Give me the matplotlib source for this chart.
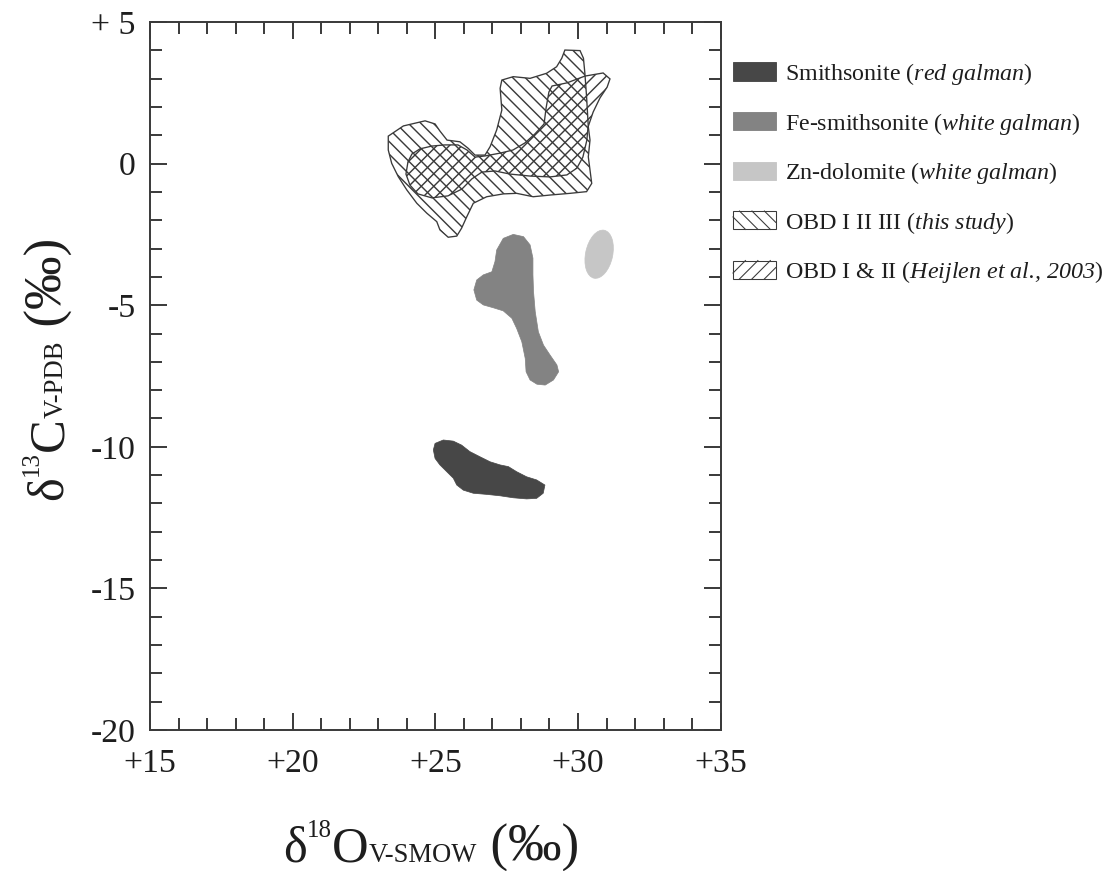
import numpy as np
import matplotlib
matplotlib.use("Agg")
import matplotlib.pyplot as plt
from matplotlib.patches import Polygon, Ellipse, Patch, Rectangle
from matplotlib.lines import Line2D
from matplotlib.collections import LineCollection
from matplotlib.legend_handler import HandlerBase
from matplotlib.ticker import MultipleLocator, FixedLocator
from matplotlib.transforms import IdentityTransform

# outlines: delta18O (V-SMOW) and delta13C (V-PDB)
smith_o18 = [24.99, 25.28, 25.63, 25.92, 26.21, 26.56, 26.92, 27.27, 27.56, 27.85, 28.20, 28.55, 28.84,
             28.78, 28.55, 28.20, 27.73, 27.27, 26.80, 26.33, 25.98, 25.75, 25.63, 25.40, 25.16, 24.99, 24.93]
smith_c13 = [-9.88, -9.76, -9.80, -9.94, -10.17, -10.35, -10.53, -10.64, -10.70, -10.88, -11.06, -11.17, -11.35,
             -11.64, -11.82, -11.84, -11.80, -11.73, -11.68, -11.64, -11.53, -11.35, -11.11, -10.88, -10.64, -10.41, -10.11]

fe_o18 = [27.15, 27.38, 27.73, 28.09, 28.32, 28.42, 28.42, 28.44, 28.50, 28.61, 28.79, 29.02, 29.26, 29.32, 29.14, 28.85,
          28.56, 28.32, 28.18, 28.15, 28.03, 27.85, 27.68, 27.38, 27.03, 26.68, 26.45, 26.35, 26.45, 26.68, 26.98, 27.09]
fe_c13 = [-3.05, -2.64, -2.50, -2.58, -2.87, -3.34, -3.93, -4.52, -5.23, -5.94, -6.41, -6.76, -7.11, -7.35, -7.64, -7.82,
          -7.79, -7.64, -7.35, -6.88, -6.29, -5.82, -5.46, -5.20, -5.09, -4.99, -4.82, -4.46, -4.11, -3.93, -3.82, -3.46]

# Zn-dolomite field is an ellipse
zn_center = (30.74, -3.20)
zn_width = 0.95
zn_height = 1.73
zn_angle = -12

# OBD I II III (this study)
obd123_o18 = [23.35, 23.88, 24.64, 24.99, 25.16, 25.41, 25.86, 26.15, 26.39, 26.74, 26.92, 27.15, 27.33, 27.27, 27.33,
              27.73, 28.32, 28.90, 29.25, 29.43, 29.54, 30.07, 30.19, 30.24, 30.30, 30.36, 30.42, 30.36, 30.42, 30.48,
              30.30, 29.72, 29.02, 28.43, 27.85, 27.38, 26.80, 26.33, 26.10, 25.92, 25.75, 25.45, 25.16, 25.05, 24.70,
              24.35, 24.00, 23.70, 23.47, 23.35]
obd123_c13 = [0.97, 1.33, 1.51, 1.40, 1.15, 0.83, 0.77, 0.54, 0.30, 0.30, 0.60, 1.19, 1.89, 2.66, 2.95,
              3.07, 3.01, 3.19, 3.42, 3.72, 4.01, 3.99, 3.72, 3.19, 2.36, 1.30, 0.83, 0.24, -0.23, -0.70,
              -0.99, -1.05, -1.11, -1.17, -1.05, -1.07, -1.17, -1.40, -1.88, -2.28, -2.56, -2.60, -2.34, -2.05, -1.75,
              -1.40, -0.93, -0.46, 0.01, 0.48]

# OBD I & II (Heijlen et al., 2003)
obd12_o18 = [24.04, 24.18, 24.46, 24.88, 25.34, 25.79, 26.11, 26.39, 26.74, 27.27, 27.72, 28.14, 28.49, 28.81, 28.88,
             28.98, 29.09, 29.61, 30.24, 30.88, 31.12, 31.02, 30.77, 30.53, 30.35, 30.31, 30.17, 29.96, 29.61, 29.02,
             28.32, 27.62, 27.09, 26.63, 26.28, 25.93, 25.44, 24.88, 24.39, 24.11, 23.97]
obd12_c13 = [0.06, 0.34, 0.52, 0.62, 0.66, 0.66, 0.48, 0.23, 0.27, 0.37, 0.48, 0.73, 1.05, 1.40, 1.96,
             2.53, 2.74, 2.85, 3.09, 3.20, 2.99, 2.70, 2.32, 1.82, 1.29, 0.83, 0.23, -0.16, -0.40, -0.47,
             -0.44, -0.37, -0.26, -0.30, -0.54, -0.90, -1.14, -1.21, -1.07, -0.76, -0.37]

x_ticks = [15, 20, 25, 30, 35]
x_tick_labels = ["+15", "+20", "+25", "+30", "+35"]
y_ticks = [-20, -15, -10, -5, 0, 5]
y_tick_labels = ["-20", "-15", "-10", "-5", "0", "+ 5"]

# \mathbf is mapped to the italic face below so digits come out italic too
legend_labels = [r"Smithsonite ($\mathbf{red\ galman}$)",
                 r"Fe-smithsonite ($\mathbf{white\ galman}$)",
                 r"Zn-dolomite ($\mathbf{white\ galman}$)",
                 r"OBD I II III ($\mathbf{this\ study}$)",
                 r"OBD I & II ($\mathbf{Heijlen\ et\ al.\!{,}\ 2003}$)"]

c_dark = "#474747"
c_mid = "#838383"
c_light = "#c6c6c6"
c_line = "#3a3a3a"
c_axis = "#3a3a3a"

plt.rcParams['font.family'] = 'Liberation Serif'
plt.rcParams['mathtext.fontset'] = 'custom'
plt.rcParams['mathtext.rm'] = 'Liberation Serif'
plt.rcParams['mathtext.it'] = 'Liberation Serif:italic'
plt.rcParams['mathtext.bf'] = 'Liberation Serif:italic'
plt.rcParams['text.color'] = '#1e1e1e'

DPI = 64
W, H = 1109, 871
fig = plt.figure(figsize=(W / DPI, H / DPI), dpi=DPI)
ax = fig.add_axes([150 / W, 1 - 730 / H, 570.7 / W, 708 / H])
ax.set_xlim(15, 35)
ax.set_ylim(-20, 5)

HATCH_STEP = 12.5  # px between hatch lines along x


def add_hatched(xs, ys, direction):
    # outline plus 45 degree lines clipped to it (direction -1 = '\', +1 = '/')
    poly = Polygon(list(zip(xs, ys)), closed=True, fill=False, edgecolor=c_line, lw=1.5, zorder=1.5)
    ax.add_patch(poly)
    sx = ax.bbox.width / 20.0
    sy = ax.bbox.height / 25.0
    u = np.array(xs) * sx
    v = np.array(ys) * sy
    c_all = v - direction * u
    segs = []
    for c in np.arange(c_all.min() - HATCH_STEP, c_all.max() + HATCH_STEP, HATCH_STEP):
        uu = np.array([u.min() - 20, u.max() + 20])
        vv = direction * uu + c
        segs.append(list(zip(uu / sx, vv / sy)))
    lc = LineCollection(segs, colors=c_line, linewidths=1.6, zorder=1)
    ax.add_collection(lc)
    lc.set_clip_path(poly)


add_hatched(obd123_o18, obd123_c13, -1)
add_hatched(obd12_o18, obd12_c13, 1)

# filled fields
ax.add_patch(Polygon(list(zip(smith_o18, smith_c13)), closed=True,
                     facecolor=c_dark, edgecolor=c_dark, lw=0.8, zorder=2))
ax.add_patch(Polygon(list(zip(fe_o18, fe_c13)), closed=True,
                     facecolor=c_mid, edgecolor=c_mid, lw=0.8, zorder=2))
ax.add_patch(Ellipse(zn_center, zn_width, zn_height, angle=zn_angle,
                     facecolor=c_light, edgecolor=c_light, lw=0.8, zorder=2))

ax.xaxis.set_major_locator(FixedLocator(x_ticks))
ax.xaxis.set_minor_locator(MultipleLocator(1))
ax.yaxis.set_major_locator(FixedLocator(y_ticks))
ax.yaxis.set_minor_locator(MultipleLocator(1))
ax.set_xticklabels(x_tick_labels)
ax.set_yticklabels(y_tick_labels)
ax.tick_params(which='both', direction='in', top=True, right=True, width=2.2, color=c_axis,
               labelsize=38, labelcolor='#1e1e1e')
ax.tick_params(which='major', length=19)
ax.tick_params(which='minor', length=13.5)
ax.tick_params(axis='x', pad=21)
ax.tick_params(axis='y', pad=16)
for sp in ax.spines.values():
    sp.set_linewidth(2.2)
    sp.set_color(c_axis)


def rich_text(x0, y0, pieces, vertical=False):
    # write text made of pieces of different size / rise, in pixels
    r = fig.canvas.get_renderer()
    pos = 0.0
    for s, size, rise in pieces:
        if vertical:
            t = fig.text(x0 - rise, y0 + pos, s, fontsize=size, rotation=90, rotation_mode='anchor',
                         ha='left', va='baseline', transform=IdentityTransform())
            pos += t.get_window_extent(r).height
        else:
            t = fig.text(x0 + pos, y0 + rise, s, fontsize=size, ha='left', va='baseline',
                         transform=IdentityTransform())
            pos += t.get_window_extent(r).width


rich_text(283, H - 861, [("δ", 57, 0), ("18", 28, 24), ("O", 57, 0), ("V-SMOW", 30, -1), (" (‰)", 60, 0)])
rich_text(62, H - 500, [("δ", 57, 0), ("13", 28, 24), ("C", 57, 0), ("V-PDB", 30, -1), (" (‰)", 60, 0)],
          vertical=True)


class HatchBox(HandlerBase):
    # legend box with the same line hatching as the fields
    def __init__(self, direction, step):
        super().__init__()
        self.direction = direction
        self.step = step

    def create_artists(self, legend, orig_handle, xdescent, ydescent, width, height, fontsize, trans):
        x0, y0 = -xdescent, -ydescent
        arts = [Rectangle((x0, y0), width, height, facecolor='white', edgecolor=c_line, lw=1.2,
                          transform=trans)]
        c = -height
        while c < width:
            t0 = max(0.0, -c)
            t1 = min(height, width - c)
            if t1 > t0:
                xx = [x0 + c + t0, x0 + c + t1]
                if self.direction < 0:
                    yy = [y0 + height - t0, y0 + height - t1]
                else:
                    yy = [y0 + t0, y0 + t1]
                arts.append(Line2D(xx, yy, color=c_line, lw=1.2, transform=trans))
            c += self.step
        return arts


h_smith = Patch(facecolor=c_dark, edgecolor=c_dark)
h_fe = Patch(facecolor=c_mid, edgecolor=c_mid)
h_zn = Patch(facecolor=c_light, edgecolor=c_light)
h_obd123 = Patch(facecolor='white', edgecolor=c_line)
h_obd12 = Patch(facecolor='white', edgecolor=c_line)
ax.legend([h_smith, h_fe, h_zn, h_obd123, h_obd12], legend_labels, loc='upper left',
          bbox_to_anchor=(733 / W, 1 - 61 / H), bbox_transform=fig.transFigure, frameon=False,
          borderpad=0, borderaxespad=0, handlelength=1.78, handleheight=0.8, handletextpad=0.38,
          labelspacing=0.98, fontsize=27,
          handler_map={h_obd123: HatchBox(-1, 14), h_obd12: HatchBox(1, 14)})

fig.savefig("out.png", dpi=DPI)
